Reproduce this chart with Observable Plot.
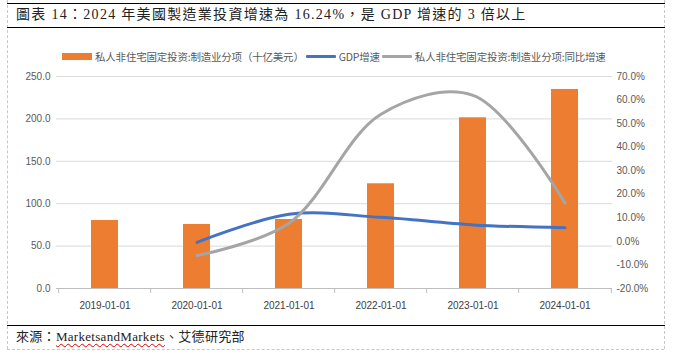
<!DOCTYPE html>
<html>
<head>
<meta charset="utf-8">
<script src="https://cdn.jsdelivr.net/npm/d3@7"></script>
<script src="https://cdn.jsdelivr.net/npm/@observablehq/plot@0.6"></script>
<style>
  html, body { margin: 0; padding: 0; background: #fff; }
  #page { position: relative; width: 676px; height: 355px; overflow: hidden; background: #fff; }
  .hline { position: absolute; left: 7px; width: 658px; height: 0; border-top: 1.5px solid #000; }
  .vdash { position: absolute; top: 0; height: 349px; width: 0; border-left: 1px dashed #c8c8c8; }
  .bdash { position: absolute; left: 7px; width: 657px; top: 349px; height: 0; border-top: 1px dashed #c8c8c8; }
  #title { position: absolute; left: 16px; top: 5px; font-family: "Liberation Serif", "Noto Sans CJK TC", serif; font-size: 14px; letter-spacing: 1.3px; color: #222; white-space: nowrap; line-height: 20px; }
  #footer { position: absolute; left: 16px; top: 328px; font-family: "Liberation Serif", "Noto Sans CJK TC", serif; font-size: 13px; letter-spacing: 0.3px; color: #222; white-space: nowrap; line-height: 18px; }
  #footer .sp { text-decoration: underline wavy #d00; text-decoration-thickness: 1px; text-underline-offset: 2px; }
  #legend { position: absolute; left: 62px; top: 48px; height: 16px; display: flex; align-items: center; font-family: "Noto Sans CJK SC", sans-serif; font-size: 10.5px; letter-spacing: -0.2px; color: #595959; white-space: nowrap; }
  #legend .sw { display: inline-block; width: 30px; margin-right: 3px; }
  #legend .item { display: flex; align-items: center; margin-right: 2px; }
  #chart { position: absolute; left: 0; top: 28px; }
</style>
</head>
<body>
<div id="page">
  <div class="vdash" style="left:7px"></div>
  <div class="vdash" style="left:664px"></div>
  <div class="bdash"></div>
  <div class="hline" style="top:3px"></div>
  <div class="hline" style="top:27px"></div>
  <div class="hline" style="top:325px"></div>
  <div id="title">圖表 14：2024 年美國製造業投資增速為 16.24%，是 GDP 增速的 3 倍以上</div>
  <div id="legend"></div>
  <div id="chart"></div>
  <div id="footer">來源：<span class="sp">MarketsandMarkets</span>、艾德研究部</div>
</div>
<script>
// ---- data ----
const years = ["2019-01-01", "2020-01-01", "2021-01-01", "2022-01-01", "2023-01-01", "2024-01-01"];
const investment = [80.2, 75.5, 81.4, 123.5, 201.3, 234.7]; // 十亿美元
const growthYears = ["2020-01-01", "2021-01-01", "2022-01-01", "2023-01-01", "2024-01-01"];
const gdpGrowth = [-0.4, 11.5, 10.2, 7.0, 5.8];          // %
const investGrowth = [-6.0, 7.7, 54.0, 62.0, 16.24];    // %
const leftTicks = [0, 50, 100, 150, 200, 250];
const rightTicks = [-20, -10, 0, 10, 20, 30, 40, 50, 60, 70];
const seriesNames = ["私人非住宅固定投资:制造业分项（十亿美元）", "GDP增速", "私人非住宅固定投资:制造业分项:同比增速"];
const colors = ["#ED7D31", "#4472C4", "#A5A5A5"];

// ---- legend ----
const legend = document.getElementById("legend");
seriesNames.forEach((name, i) => {
  const item = document.createElement("span");
  item.className = "item";
  const sw = document.createElement("span");
  sw.className = "sw";
  if (i === 0) { sw.style.height = "7px"; sw.style.background = colors[i]; }
  else { sw.style.height = "3px"; sw.style.background = colors[i]; sw.style.borderRadius = "1px"; }
  item.appendChild(sw);
  const t = document.createElement("span");
  t.textContent = name;
  item.appendChild(t);
  legend.appendChild(item);
});

// ---- chart ----
const W = 676, H = 297, mL = 56, mR = 64;
const step = (W - mL - mR) / years.length;
// right axis (%) mapped onto left-axis units
const rMin = -20, rMax = 70, lMax = 250;
const toLeft = p => (p - rMin) * lMax / (rMax - rMin);
const fromLeft = v => v * (rMax - rMin) / lMax + rMin;

const bars = years.map((d, i) => ({year: d, value: investment[i]}));
const gdpData = growthYears.map((d, i) => ({year: d, v: toLeft(gdpGrowth[i])}));
const invGData = growthYears.map((d, i) => ({year: d, v: toLeft(investGrowth[i])}));

const chart = Plot.plot({
  width: W, height: H,
  marginLeft: mL, marginRight: mR, marginTop: 48, marginBottom: 37,
  style: {fontFamily: "'Liberation Sans', Arial, sans-serif", fontSize: "10px", color: "#595959", background: "transparent"},
  x: {type: "band", domain: years, paddingInner: 0.71, paddingOuter: 0.355, align: 0.5, label: null},
  y: {domain: [0, lMax], label: null},
  marks: [
    Plot.gridY(leftTicks, {stroke: "#d9d9d9", strokeOpacity: 1}),
    Plot.barY(bars, {x: "year", y: "value", fill: colors[0]}),
    Plot.ruleY([0], {stroke: "#bfbfbf"}),
    Plot.ruleX(years, {x: d => d, y1: 0, y2: 0, dx: -step / 2, insetBottom: -5, stroke: "#bfbfbf"}),
    Plot.ruleX(years.slice(-1), {x: d => d, y1: 0, y2: 0, dx: step / 2, insetBottom: -5, stroke: "#bfbfbf"}),
    Plot.line(gdpData, {x: "year", y: "v", stroke: colors[1], strokeWidth: 3, curve: "catmull-rom"}),
    Plot.line(invGData, {x: "year", y: "v", stroke: colors[2], strokeWidth: 3, curve: "catmull-rom"}),
    Plot.axisY(leftTicks, {anchor: "left", tickSize: 0, tickPadding: 6, tickFormat: d => d.toFixed(1), fill: "#595959", label: null}),
    Plot.axisY(rightTicks.map(toLeft), {anchor: "right", tickSize: 0, tickPadding: 4, tickFormat: v => fromLeft(v).toFixed(1) + "%", fill: "#595959", label: null}),
    Plot.axisX({tickSize: 0, tickPadding: 13, fill: "#404040", label: null})
  ]
});
document.getElementById("chart").appendChild(chart);
</script>
</body>
</html>
